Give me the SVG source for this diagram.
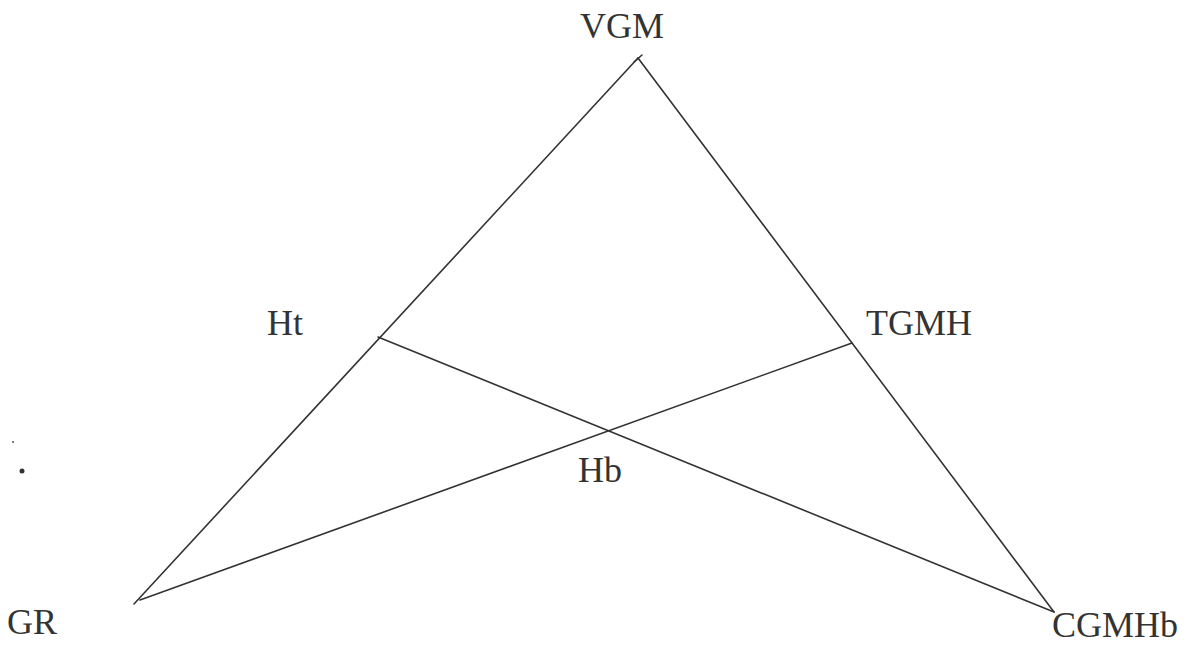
<svg xmlns="http://www.w3.org/2000/svg" width="1187" height="646" viewBox="0 0 1187 646">
<style>
.ln{stroke:#333;stroke-width:1.6;fill:none;stroke-linecap:round}
.lb{font-family:"Liberation Serif",serif;font-size:36px;fill:#333}
</style>
<rect width="1187" height="646" fill="#fff"/>
<g id="connectors">
<line class="ln" x1="638" y1="58" x2="134" y2="604"/>
<line class="ln" x1="638" y1="58" x2="1054" y2="612"/>
<line class="ln" x1="378" y1="337" x2="1054" y2="612"/>
<line class="ln" x1="140" y1="600" x2="852" y2="343"/>
<line class="ln" x1="634" y1="62" x2="642" y2="55"/>
</g>
<g id="VGM"><text class="lb" x="580" y="38">VGM</text></g>
<g id="Ht"><text class="lb" x="267" y="335">Ht</text></g>
<g id="TGMH"><text class="lb" x="866" y="335">TGMH</text></g>
<g id="Hb"><text class="lb" x="578" y="482">Hb</text></g>
<g id="GR"><text class="lb" x="7" y="634">GR</text></g>
<g id="CGMHb"><text class="lb" x="1052" y="637">CGMHb</text></g>
<circle cx="13" cy="442" r="1" fill="#555"/>
<circle cx="22" cy="471" r="2.5" fill="#333"/>
</svg>
